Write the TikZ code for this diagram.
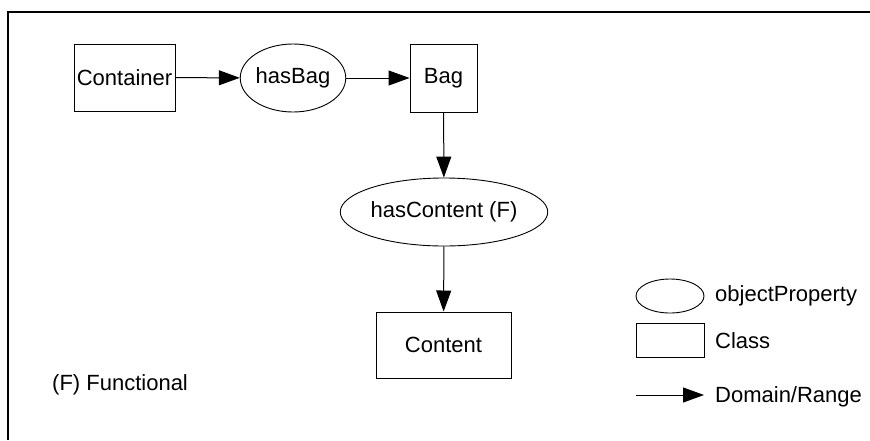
\documentclass[tikz,border=0pt]{standalone}
\usepackage{fontspec}
\setmainfont{Liberation Sans}
\usetikzlibrary{arrows.meta,shapes.geometric}
\begin{document}
\begin{tikzpicture}[x=1pt,y=-1pt,
  every node/.style={font=\fontsize{22}{26}\selectfont, inner sep=0pt},
  cls/.style={draw, line width=1pt, rectangle},
  prop/.style={draw, line width=0.9pt, ellipse},
  dr/.style={line width=1pt, -{Triangle[length=21pt,width=15pt]}},
  lbl/.style={anchor=west}]
\useasboundingbox (0,0) rectangle (870,440);
\draw[line width=2pt] (8,440) -- (8,11.5) -- (870,11.5);
\node[cls, minimum width=101pt, minimum height=67pt] (container) at (124.5,77.5) {Container};
\node[prop, minimum width=100pt, minimum height=68pt] (hasbag) at (293,78) {hasBag};
\node[cls, minimum width=67pt, minimum height=68pt] (bag) at (443.5,78) {Bag};
\node[prop, minimum width=202pt, minimum height=68pt] (hascontent) at (444,212) {hasContent (F)};
\node[cls, minimum width=135pt, minimum height=66pt] (content) at (443.5,345) {Content};
\draw[dr] (container) -- (hasbag);
\draw[dr] (hasbag) -- (bag);
\draw[dr] (bag) -- (hascontent);
\draw[dr] (hascontent) -- (content);
\node[lbl] (functional) at (52,385) {(F) Functional};
% legend
\node[prop, minimum width=68pt, minimum height=34pt] (lgprop) at (670,296) {};
\node[lbl] (lgproptext) at (715,296) {objectProperty};
\node[cls, minimum width=68pt, minimum height=34pt] (lgcls) at (670,340) {};
\node[lbl] (lgclstext) at (715,341) {Class};
\coordinate (lga) at (636,395);
\coordinate (lgb) at (704,395);
\draw[dr] (lga) -- (lgb);
\node[lbl] (lgdrtext) at (715,397) {Domain/Range};
\end{tikzpicture}
\end{document}
